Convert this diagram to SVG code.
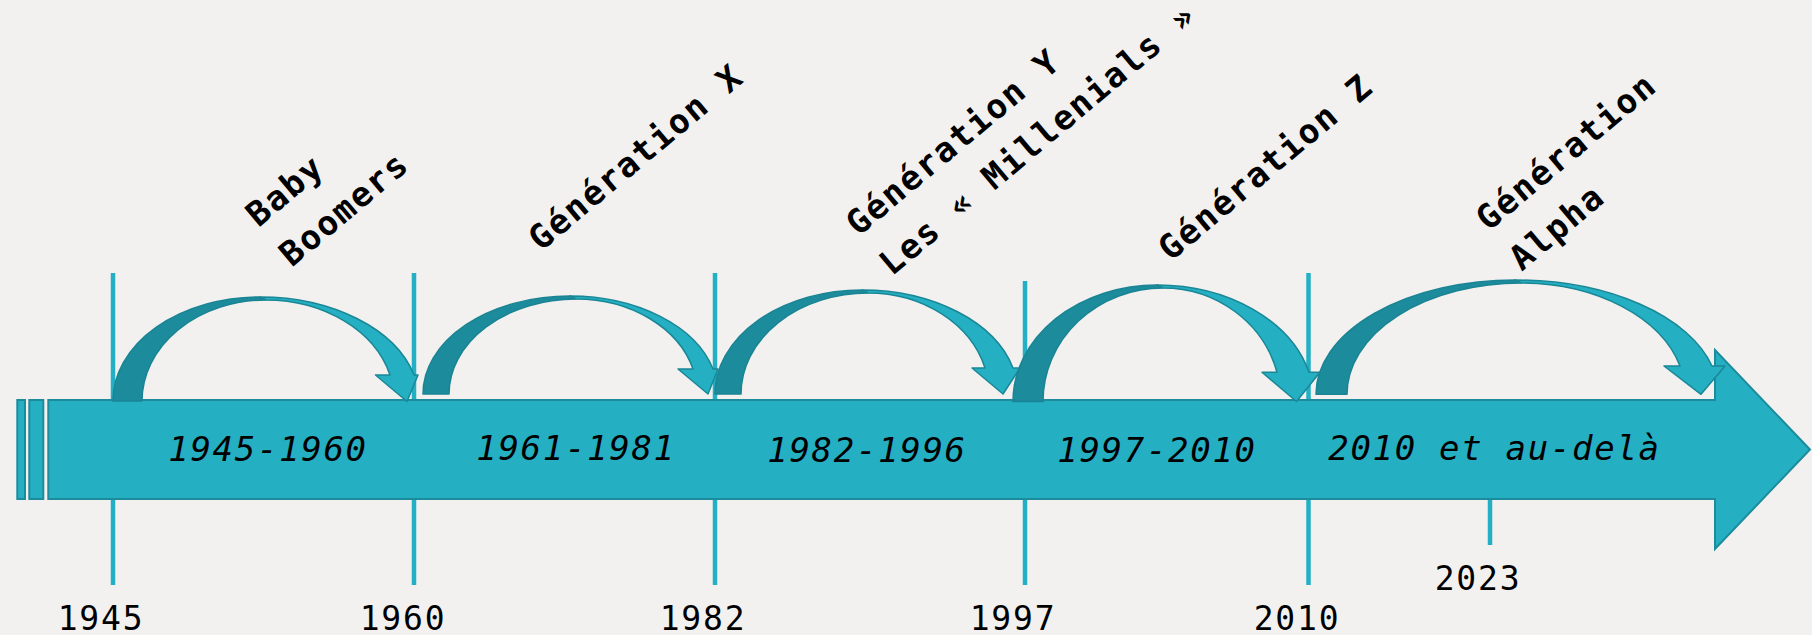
<svg xmlns="http://www.w3.org/2000/svg" width="1812" height="635" viewBox="0 0 1812 635">
<style>
.tick{stroke:#23AFC4;stroke-width:4.5;fill:none}
.bar{fill:#24AFC3;stroke:#1C8C9C;stroke-width:2}
.dark{fill:#1C8B9B;stroke:#1A8494;stroke-width:1.5;stroke-linejoin:round}
.light{fill:#24AFC3;stroke:#1A8796;stroke-width:1.5;stroke-linejoin:round}
.period{font-family:"DejaVu Sans Mono",monospace;font-style:italic;font-size:34px;letter-spacing:1.7px;fill:#000;text-anchor:middle}
.year{font-family:"DejaVu Sans Mono",monospace;font-size:33px;letter-spacing:1.8px;fill:#000;text-anchor:middle}
.gen{font-family:"DejaVu Sans Mono",monospace;font-weight:bold;font-size:34px;letter-spacing:1.8px;fill:#000}
</style>
<rect width="1812" height="635" fill="#F2F1EF"/>

<g id="ticks">
<g id="tick-1945"><line class="tick" x1="113" y1="273" x2="113" y2="585"/><text class="year" x="101" y="630">1945</text></g>
<g id="tick-1960"><line class="tick" x1="414" y1="273" x2="414" y2="585"/><text class="year" x="403" y="630">1960</text></g>
<g id="tick-1982"><line class="tick" x1="715" y1="273" x2="715" y2="585"/><text class="year" x="703" y="630">1982</text></g>
<g id="tick-1997"><line class="tick" x1="1025" y1="281" x2="1025" y2="585"/><text class="year" x="1013" y="630">1997</text></g>
<g id="tick-2010"><line class="tick" x1="1308.5" y1="273" x2="1308.5" y2="585"/><text class="year" x="1297" y="630">2010</text></g>
<g id="tick-2023"><line class="tick" x1="1490" y1="499" x2="1490" y2="545"/><text class="year" x="1478" y="590">2023</text></g>
</g>

<g id="timeline">
<rect class="bar" x="17.3" y="400" width="7.7" height="99"/>
<rect class="bar" x="29.3" y="400" width="14" height="99"/>
<path class="bar" d="M48.3,400 L1715,400 L1715,350 L1810,449.5 L1715,549 L1715,499 L48.3,499 Z"/>
<text class="period" x="268" y="461">1945-1960</text>
<text class="period" x="576" y="460">1961-1981</text>
<text class="period" x="867" y="461.5">1982-1996</text>
<text class="period" x="1157" y="461.5">1997-2010</text>
<text class="period" x="1494.5" y="460">2010 et au-delà</text>
</g>

<g id="connectors">
<g id="arrow-boomers">
<path class="dark" d="M113,401 A147,104 0 0 1 260,297 L266,300 A124,101 0 0 0 142,401 Z"/>
<path class="light" d="M260,297 A159,104 0 0 1 414,375 L418,375 L407,401.5 L375.5,375 L390,375 A128.4,101 0 0 0 266,300 Z"/>
</g>
<g id="arrow-genx">
<path class="dark" d="M423,394 A147,98 0 0 1 570,296 L576,299 A127,95 0 0 0 449,394 Z"/>
<path class="light" d="M570,296 A148,98 0 0 1 713,369 L718,369 L708,394 L678,369 L693,369 A121.3,95 0 0 0 576,299 Z"/>
</g>
<g id="arrow-geny">
<path class="dark" d="M715,394 A147,104 0 0 1 862,290 L868,293 A127,101 0 0 0 741,394 Z"/>
<path class="light" d="M862,290 A156,104 0 0 1 1013,368 L1020,368 L1003,394 L972,368 L985,368 A121.1,101 0 0 0 868,293 Z"/>
</g>
<g id="arrow-genz">
<path class="dark" d="M1013,401.5 A144,116.5 0 0 1 1157,285 L1163,288 A120,113.5 0 0 0 1043,401.5 Z"/>
<path class="light" d="M1157,285 A157,116.5 0 0 1 1309,372.3 L1320,372.3 L1296.5,401.5 L1262,372.3 L1277,372.3 A118,113.5 0 0 0 1163,288 Z"/>
</g>
<g id="arrow-alpha">
<path class="dark" d="M1316,394.3 A199,114.3 0 0 1 1515,280 L1521,283 A174,111.3 0 0 0 1347,394.3 Z"/>
<path class="light" d="M1515,280 A203.3,114.3 0 0 1 1712,366 L1725,366 L1701,394.3 L1664,366 L1680,366 A164.4,111.3 0 0 0 1521,283 Z"/>
</g>
</g>

<g id="label-boomers"><text class="gen" transform="translate(258.4,228) rotate(-40)"><tspan x="0" y="0">Baby</tspan><tspan x="0" dy="52">Boomers</tspan></text></g>
<g id="label-genx"><text class="gen" transform="translate(541,252) rotate(-40)">Génération X</text></g>
<g id="label-geny"><text class="gen" transform="translate(858.4,237) rotate(-40)"><tspan x="0" y="0">Génération Y</tspan><tspan x="0" dy="52">Les « Millenials »</tspan></text></g>
<g id="label-genz"><text class="gen" transform="translate(1170.7,262) rotate(-40)">Génération Z</text></g>
<g id="label-alpha"><text class="gen" transform="translate(1488.4,232) rotate(-40)"><tspan x="0" y="0">Génération</tspan><tspan x="0" dy="52">Alpha</tspan></text></g>
</svg>
